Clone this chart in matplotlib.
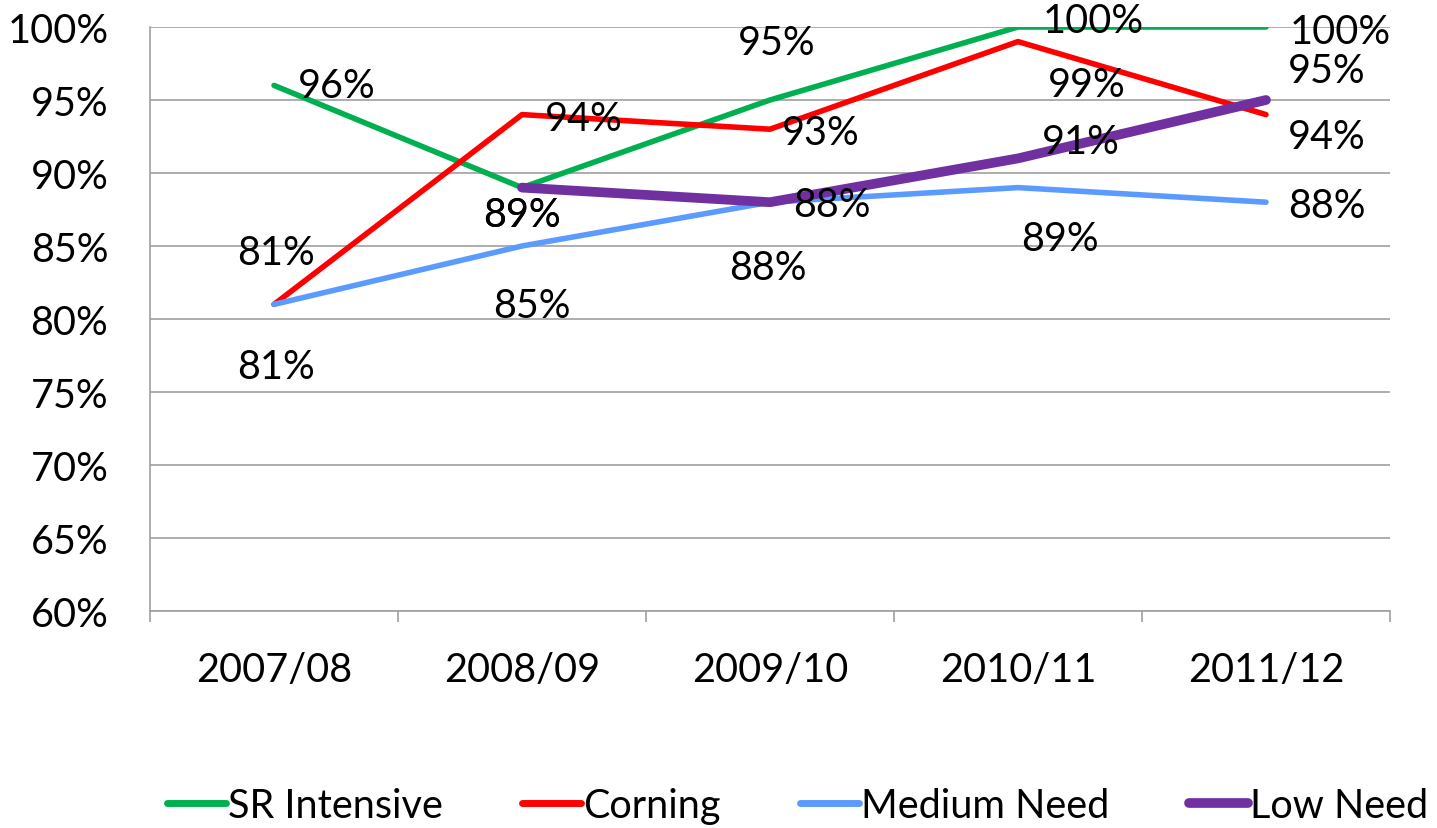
import numpy as np
import matplotlib
matplotlib.use("Agg", force=True)
import matplotlib.pyplot as plt
from matplotlib.ticker import FixedLocator, PercentFormatter

years = ["2007/08", "2008/09", "2009/10", "2010/11", "2011/12"]
sr_intensive = [96, 89, 95, 100, 100]
corning = [81, 94, 93, 99, 94]
medium_need = [81, 85, 88, 89, 88]
low_need = [np.nan, 89, 88, 91, 95]

# label offsets in pixels (dx, dy, ha)
sr_off = [(24, 0, "left"), (0, -27, "center"), (7, 57, "center"), (25, 6, "left"), (24, -5, "left")]
cor_off = [(2, 52, "center"), (23, -4, "left"), (12, -3, "left"), (30, -43, "left"), (22, -22, "left")]
med_off = [(2, -62, "center"), (10, -60, "center"), (-2, -65, "center"), (42, -51, "center"), (22, -3, "left")]
low_off = [None, (0, -27, "center"), (23, -2, "left"), (24, 17, "left"), (22, 29, "left")]

plt.rcParams["font.family"] = ["Lato", "DejaVu Sans"]
FS = 28.5

fig = plt.figure(figsize=(14.37, 8.29), dpi=100)
ax = fig.add_axes([150 / 1437, 1 - 612 / 829, 1240 / 1437, 584 / 829])

x = np.arange(len(years))
series = [
    ("SR Intensive", sr_intensive, "#00B050", 4, sr_off),
    ("Corning", corning, "#FF0000", 4, cor_off),
    ("Medium Need", medium_need, "#5B9BFF", 4, med_off),
    ("Low Need", low_need, "#7030A0", 7, low_off),
]
for name, vals, color, lw, offs in series:
    ax.plot(x, vals, color=color, lw=lw, label=name, solid_capstyle="round",
            solid_joinstyle="round", zorder=3)
    for xi, v, off in zip(x, vals, offs):
        if off is None or np.isnan(v):
            continue
        dx, dy, ha = off
        ax.annotate(f"{v:.0f}%", (xi, v), xytext=(dx, dy), textcoords="offset pixels",
                    ha=ha, va="center", fontsize=FS, zorder=4)

ax.set_xlim(-0.5, 4.5)
ax.set_ylim(60, 100)
ax.yaxis.set_major_locator(FixedLocator(np.arange(60, 101, 5)))
ax.yaxis.set_major_formatter(PercentFormatter(decimals=0))
ax.grid(True, axis="y", color="#A0A0A0", lw=1.2)
ax.set_axisbelow(True)
ax.set_xticks(x)
ax.set_xticklabels(years)
ax.xaxis.set_minor_locator(FixedLocator(np.arange(-0.5, 4.6, 1)))
ax.tick_params(axis="x", which="major", length=0, pad=29, labelsize=FS)
ax.tick_params(axis="x", which="minor", length=8, color="#A0A0A0", width=1.2)
ax.tick_params(axis="y", length=0, pad=30, labelsize=FS)
for s in ["top", "right"]:
    ax.spines[s].set_visible(False)
for s in ["left", "bottom"]:
    ax.spines[s].set_color("#A0A0A0")
    ax.spines[s].set_linewidth(1.2)

leg = fig.legend(loc="lower center", bbox_to_anchor=(0.555, -0.038), ncol=4, frameon=False,
                 fontsize=FS, handlelength=1.5, handletextpad=0.05, columnspacing=2.0)
for h in leg.get_lines():
    h.set_solid_capstyle("round")
    h.set_linewidth(max(h.get_linewidth(), 5))

fig.savefig("out.png", dpi=100)
